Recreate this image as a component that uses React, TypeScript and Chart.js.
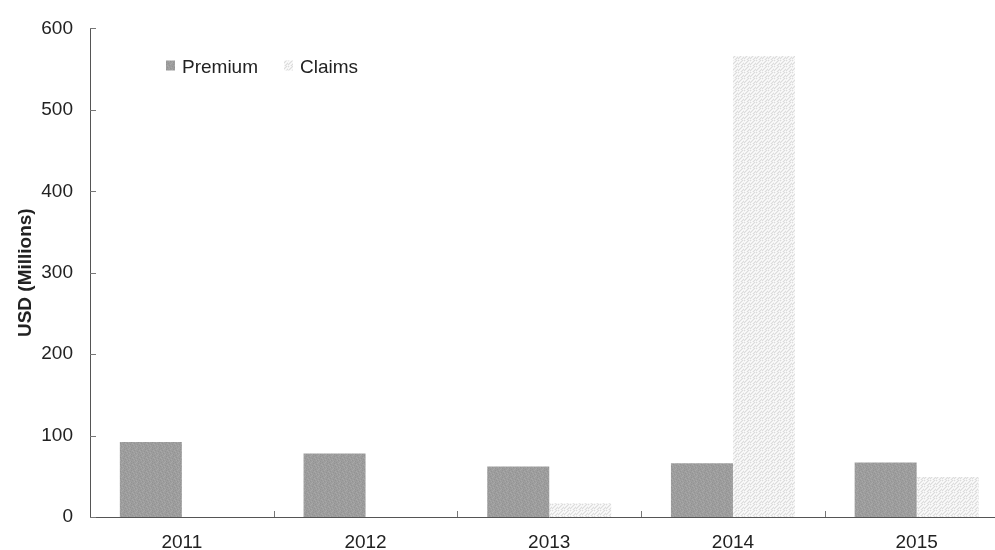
import React, { useEffect, useRef } from "react";
import { Chart, registerables } from "chart.js";

Chart.register(...registerables);

const years = ["2011", "2012", "2013", "2014", "2015"];
const premium = [92, 78, 62, 66, 67];
const claims = [0, 0, 17, 566, 49];
const yTickValues = [0, 100, 200, 300, 400, 500, 600];
const seriesNames = ["Premium", "Claims"];
const yTitle = "USD (Millions)";

const FONT = "'Liberation Sans', Arial, sans-serif";

function makePattern(base: string, dots: string[][]): CanvasPattern | string {
  const c = document.createElement("canvas");
  const n = dots.length;
  c.width = dots[0].length;
  c.height = n;
  const g = c.getContext("2d");
  if (!g) return base;
  g.fillStyle = base;
  g.fillRect(0, 0, c.width, n);
  for (let y = 0; y < n; y++) {
    for (let x = 0; x < dots[y].length; x++) {
      if (dots[y][x]) {
        g.fillStyle = dots[y][x];
        g.fillRect(x, y, 1, 1);
      }
    }
  }
  const p = g.createPattern(c, "repeat");
  return p || base;
}

export default function App() {
  const ref = useRef<HTMLCanvasElement | null>(null);

  useEffect(() => {
    if (!ref.current) return;
    const d = "#939393";
    const l = "#a8a8a8";
    const premFill = makePattern("#9d9d9d", [
      [d, "", "", l, "", "", ""],
      ["", "", l, "", "", d, ""],
      ["", d, "", "", "", "", l],
      [l, "", "", "", d, "", ""],
      ["", "", "", l, "", "", d],
      ["", l, d, "", "", "", ""],
      ["", "", "", "", l, d, ""],
    ]);
    const a = "#dcdcdc";
    const b = "#fbfbfb";
    const claimFill = makePattern("#f0f0f0", [
      [a, "", b, "", a, ""],
      ["", b, "", a, "", b],
      [b, "", a, "", b, ""],
      ["", a, "", b, "", a],
      [a, "", b, "", a, ""],
      ["", b, "", a, "", b],
    ]);
    const fills = [premFill, claimFill];

    const extras = {
      id: "extras",
      afterDraw(chart: any) {
        const ctx = chart.ctx;
        const area = chart.chartArea;
        const ys = chart.scales.y;
        const xs = chart.scales.x;
        ctx.save();
        ctx.strokeStyle = "#777";
        ctx.lineWidth = 1;
        yTickValues.forEach((v) => {
          const y = Math.round(ys.getPixelForValue(v)) + 0.5;
          ctx.beginPath();
          ctx.moveTo(area.left, y);
          ctx.lineTo(area.left + 6, y);
          ctx.stroke();
        });
        for (let i = 1; i < years.length; i++) {
          const x = Math.round((xs.getPixelForTick(i - 1) + xs.getPixelForTick(i)) / 2) + 0.5;
          ctx.beginPath();
          ctx.moveTo(x, area.bottom);
          ctx.lineTo(x, area.bottom - 6);
          ctx.stroke();
        }
        ctx.font = `19px ${FONT}`;
        ctx.textBaseline = "alphabetic";
        ctx.textAlign = "left";
        let x = area.left + 76;
        const sq = 9;
        const base = 72.5;
        seriesNames.forEach((name, i) => {
          ctx.fillStyle = fills[i];
          ctx.fillRect(x, base - 12, sq, sq + 1);
          ctx.fillStyle = "#222";
          ctx.fillText(name, x + 16, base);
          x += 16 + ctx.measureText(name).width + 26;
        });
        ctx.restore();
      },
    };

    const chart = new Chart(ref.current, {
      type: "bar",
      data: {
        labels: years,
        datasets: [
          {
            label: seriesNames[0],
            data: premium,
            backgroundColor: premFill as any,
            borderWidth: 0,
            categoryPercentage: 0.675,
            barPercentage: 1,
          },
          {
            label: seriesNames[1],
            data: claims,
            backgroundColor: claimFill as any,
            borderWidth: 0,
            categoryPercentage: 0.675,
            barPercentage: 1,
          },
        ],
      },
      options: {
        animation: false,
        responsive: false,
        devicePixelRatio: 1,
        layout: { padding: { top: 26, right: 3.5, left: 0, bottom: 0 } },
        plugins: {
          legend: { display: false },
          tooltip: { enabled: false },
        },
        scales: {
          x: {
            grid: { display: false, drawTicks: false },
            border: { display: true, color: "#555", width: 1, dash: [2, 1] },
            ticks: {
              color: "#222",
              font: { family: FONT, size: 19 },
              padding: 14,
              maxRotation: 0,
              autoSkip: false,
            },
            afterFit(scale: any) {
              scale.height = 33;
            },
          },
          y: {
            min: 0,
            max: 600,
            grid: { display: false, drawTicks: false },
            border: { display: true, color: "#555", width: 1, dash: [2, 1] },
            ticks: {
              stepSize: 100,
              color: "#222",
              font: { family: FONT, size: 19 },
              padding: 17,
            },
            title: {
              display: true,
              text: yTitle,
              color: "#222",
              font: { family: FONT, size: 19, weight: "bold" },
              padding: { top: 14, bottom: 0 },
            },
            afterFit(scale: any) {
              scale.width = 90;
            },
          },
        },
      },
      plugins: [extras],
    });
    return () => chart.destroy();
  }, []);

  return (
    <div
      style={{
        position: "absolute",
        left: 0,
        top: 0,
        width: 995,
        height: 550,
        overflow: "hidden",
        background: "#fff",
      }}
    >
      <canvas ref={ref} width={1012} height={550} style={{ display: "block", width: 1012, height: 550 }} />
    </div>
  );
}
